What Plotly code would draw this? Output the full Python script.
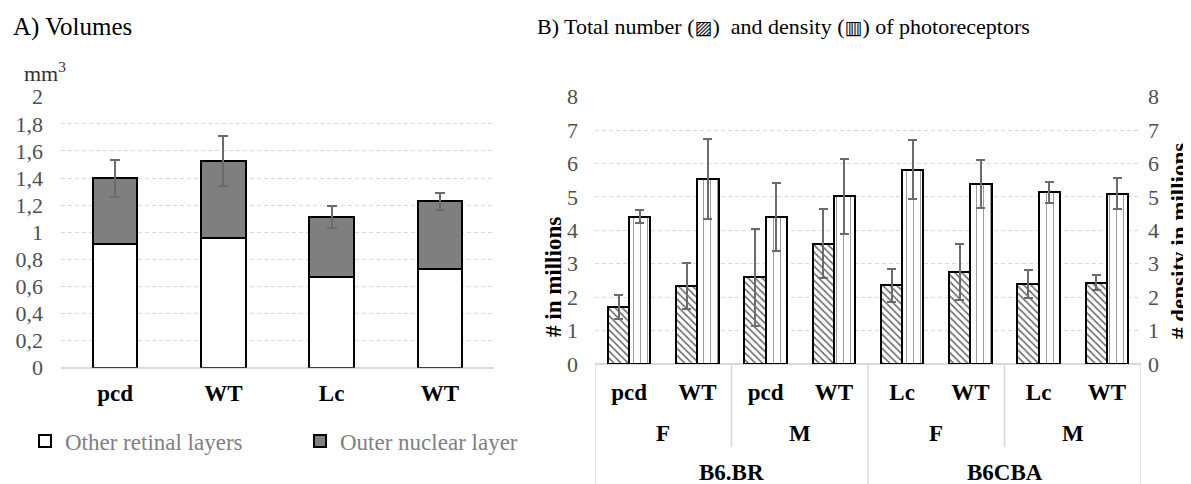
import plotly.graph_objects as go

# ---------- Panel A data ----------
a_categories = ["pcd", "WT", "Lc", "WT"]
a_other = [0.915, 0.955, 0.667, 0.726]
a_onl = [0.483, 0.570, 0.445, 0.502]
a_err = [0.135, 0.187, 0.082, 0.064]
a_yticks = [0, 0.2, 0.4, 0.6, 0.8, 1, 1.2, 1.4, 1.6, 1.8, 2]

# ---------- Panel B data ----------
b_genotype = ["pcd", "WT", "pcd", "WT", "Lc", "WT", "Lc", "WT"]
b_sex = ["F", "M", "F", "M"]
b_strain = ["B6.BR", "B6CBA"]
b_number = [1.71, 2.33, 2.60, 3.60, 2.35, 2.75, 2.39, 2.43]
b_number_err = [0.36, 0.69, 1.45, 1.03, 0.50, 0.84, 0.42, 0.22]
b_density = [4.41, 5.53, 4.41, 5.02, 5.82, 5.38, 5.14, 5.10]
b_density_err = [0.19, 1.20, 1.02, 1.13, 0.87, 0.72, 0.32, 0.46]
b_yticks = [0, 1, 2, 3, 4, 5, 6, 7, 8]

SERIF = "Liberation Serif, Times New Roman, Tinos, serif"
TICK_GRAY = "#505050"
GRID = "#d9d9d9"
ERR_GRAY = "#6b6b6b"

# the page body has an 8px margin: size the figure to fill the rest of the window
OFF = 8
W, H = 1191 - OFF, 484 - OFF
def px_x(v):
    return (v - OFF) / W
def px_y(v):
    return 1 - (v - OFF) / H

a_x = list(range(len(a_categories)))
b_x = list(range(len(b_genotype)))

fig = go.Figure()

# Panel A stacked bars
fig.add_trace(go.Bar(
    x=a_x, y=a_other, name="Other retinal layers",
    marker=dict(color="white", line=dict(color="black", width=2)),
    width=0.41, xaxis="x", yaxis="y",
))
fig.add_trace(go.Bar(
    x=a_x, y=a_onl, name="Outer nuclear layer",
    marker=dict(color="#7f7f7f", line=dict(color="black", width=2)),
    width=0.41, xaxis="x", yaxis="y",
    error_y=dict(type="data", array=a_err, color=ERR_GRAY, thickness=2, width=5),
))

# Panel B bars
fig.add_trace(go.Bar(
    x=b_x, y=b_number, name="Total number", showlegend=False,
    width=0.31, offset=-0.31,
    marker=dict(color="white", line=dict(color="black", width=2),
                pattern=dict(shape="\\", fgcolor="#666666", bgcolor="white", size=5, solidity=0.3)),
    error_y=dict(type="data", array=b_number_err, color=ERR_GRAY, thickness=2, width=4.5),
    xaxis="x2", yaxis="y2",
))
fig.add_trace(go.Bar(
    x=b_x, y=b_density, name="Density", showlegend=False,
    width=0.31, offset=0,
    marker=dict(color="white", line=dict(color="black", width=2),
                pattern=dict(shape="|", fgcolor="#9a9a9a", bgcolor="white", size=7, solidity=0.14)),
    error_y=dict(type="data", array=b_density_err, color=ERR_GRAY, thickness=2, width=4.5),
    xaxis="x2", yaxis="y3",
))

tickfont = dict(family=SERIF, size=22, color=TICK_GRAY)
catfont = dict(family=SERIF, size=23, color="black", weight="bold")
GRIDDASH = "4px,3px"

fig.update_layout(
    template="none",
    width=W, height=H,
    margin=dict(l=0, r=0, t=0, b=0, pad=0, autoexpand=False),
    paper_bgcolor="white", plot_bgcolor="white",
    font=dict(family=SERIF),
    barmode="stack",
    separators=", ",
    showlegend=True,
    legend=dict(orientation="h", x=px_x(25), y=px_y(441), xanchor="left", yanchor="middle",
                font=dict(family=SERIF, size=23, color="#808080"),
                entrywidth=230, entrywidthmode="pixels", traceorder="normal",
                itemclick=False, itemdoubleclick=False, bgcolor="rgba(0,0,0,0)"),
    xaxis=dict(domain=[px_x(61), px_x(494)], range=[-0.5, len(a_categories) - 0.5],
               tickvals=a_x, ticktext=a_categories, tickfont=catfont,
               showgrid=False, zeroline=False, showline=False, ticks="",
               ticklabelstandoff=9, fixedrange=True, automargin=False),
    yaxis=dict(domain=[px_y(367.7), px_y(96.7)], range=[0, 2], tickvals=a_yticks,
               tickfont=tickfont, showgrid=True, gridcolor=GRID, griddash=GRIDDASH, gridwidth=1,
               zeroline=True, zerolinecolor=GRID, zerolinewidth=2, showline=False,
               ticks="", ticklabelstandoff=17, fixedrange=True, automargin=False),
    xaxis2=dict(domain=[px_x(595), px_x(1141)], range=[-0.5, len(b_genotype) - 0.5],
                tickvals=b_x, ticktext=b_genotype, tickfont=catfont,
                showgrid=False, zeroline=False, showline=False, ticks="",
                ticklabelstandoff=12, anchor="y2", fixedrange=True, automargin=False),
    yaxis2=dict(domain=[px_y(364), px_y(96.7)], range=[0, 8], tickvals=b_yticks,
                tickfont=tickfont, showgrid=True, gridcolor=GRID, griddash=GRIDDASH, gridwidth=1,
                zeroline=True, zerolinecolor=GRID, zerolinewidth=2, showline=False,
                ticks="", ticklabelstandoff=16, anchor="x2", fixedrange=True, automargin=False),
    yaxis3=dict(domain=[px_y(364), px_y(96.7)], range=[0, 8], tickvals=b_yticks,
                tickfont=tickfont, showgrid=False, zeroline=False, showline=False,
                ticks="", ticklabelstandoff=6, anchor="x2", overlaying="y2", side="right",
                fixedrange=True, automargin=False),
)

icon = '<span style="font-family:DejaVu Sans;font-size:19px">{}</span>'
annotations = [
    dict(text="A) Volumes", x=px_x(11), y=px_y(27), xref="paper", yref="paper",
         xanchor="left", yanchor="middle", showarrow=False,
         font=dict(family=SERIF, size=25, color="black")),
    dict(text="B) Total number (" + icon.format("▨") + ")  and density (" + icon.format("▥")
         + ") of photoreceptors", x=px_x(535), y=px_y(27),
         xref="paper", yref="paper", xanchor="left", yanchor="middle", showarrow=False,
         font=dict(family=SERIF, size=22, color="black")),
    dict(text="mm<sup>3</sup>", x=px_x(22), y=px_y(72), xref="paper", yref="paper",
         xanchor="left", yanchor="middle", showarrow=False,
         font=dict(family=SERIF, size=22, color="#333333")),
    dict(text="# in millions", x=px_x(553), y=px_y(277), xref="paper", yref="paper",
         xanchor="center", yanchor="middle", textangle=-90, showarrow=False,
         font=dict(family=SERIF, size=23, color="black", weight="bold")),
    dict(text="# density in millions", x=px_x(1179), y=px_y(241), xref="paper", yref="paper",
         xanchor="center", yanchor="middle", textangle=-90, showarrow=False,
         font=dict(family=SERIF, size=23, color="black", weight="bold")),
]
for i, s in enumerate(b_sex):
    annotations.append(dict(text=s, x=2 * i + 0.5, y=px_y(433), xref="x2", yref="paper",
                            xanchor="center", yanchor="middle", showarrow=False, font=catfont))
for i, s in enumerate(b_strain):
    annotations.append(dict(text=s, x=4 * i + 1.5, y=px_y(472), xref="x2", yref="paper",
                            xanchor="center", yanchor="middle", showarrow=False, font=catfont))
fig.update_layout(annotations=annotations)

shapes = []
line_style = dict(color=GRID, width=1.5)
for xv in [-0.5, 3.5, 7.5]:
    shapes.append(dict(type="line", xref="x2", yref="paper", x0=xv, x1=xv,
                       y0=px_y(364), y1=0, line=line_style))
for xv in [1.5, 5.5]:
    shapes.append(dict(type="line", xref="x2", yref="paper", x0=xv, x1=xv,
                       y0=px_y(364), y1=px_y(447), line=line_style))
fig.update_layout(shapes=shapes)

fig.write_html("out.html")
